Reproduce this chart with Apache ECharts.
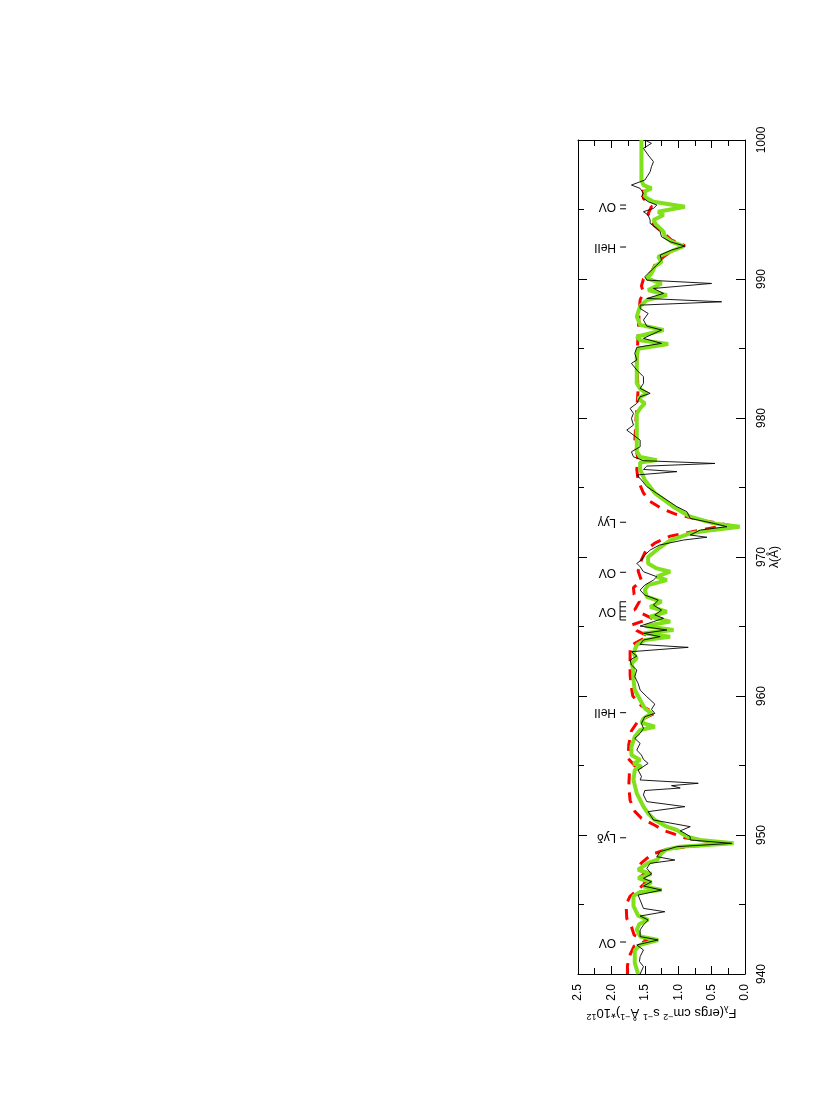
<!DOCTYPE html>
<html>
<head>
<meta charset="utf-8">
<script src="https://cdn.jsdelivr.net/npm/echarts@6/dist/echarts.min.js"></script>
<style>
html,body{margin:0;padding:0;background:#fff;}
#chart{width:830px;height:1116px;}
</style>
</head>
<body>
<div id="chart"></div>
<script>
// axis ranges and tick labels
const fluxMin = 0, fluxMax = 2.5, fluxStep = 0.5;
const waveMin = 940, waveMax = 1000, waveStep = 10;
const fluxTickLabels = ['0.0', '0.5', '1.0', '1.5', '2.0', '2.5'];
const waveTickLabels = ['940', '950', '960', '970', '980', '990', '1000'];

// observed spectrum [wavelength (Å), flux]
const obsData = [
[940.0,1.57],[940.53,1.52],[940.9,1.58],[941.25,1.57],[941.73,1.52],[942.09,1.62],[942.45,1.30],[942.69,1.57],[943.17,1.57],[943.53,1.52],
[943.89,1.45],[944.17,1.57],[944.48,1.20],[944.72,1.52],[945.32,1.57],[945.68,1.60],[946.04,1.25],[946.33,1.52],[946.64,1.40],[946.88,1.52],
[947.19,1.40],[947.6,1.47],[947.96,1.42],[948.2,1.05],[948.44,1.32],[948.8,1.27],[949.16,1.02],[949.4,0.20],[949.64,0.82],[949.88,0.82],
[950.12,0.90],[950.3,0.97],[950.6,0.82],[951.08,1.37],[951.68,1.45],[952.04,0.90],[952.4,1.47],[952.88,1.52],[953.2,1.50],[953.38,0.97],
[953.55,1.10],[953.72,0.70],[953.96,1.57],[954.2,1.55],[954.68,1.60],[955.15,1.45],[955.44,1.52],[955.75,1.55],[956.11,1.62],[956.59,1.57],
[956.95,1.65],[957.31,1.57],[957.67,1.52],[958.03,1.55],[958.51,1.50],[958.75,1.35],[959.04,1.40],[959.42,1.35],[959.95,1.47],[960.43,1.57],
[960.91,1.60],[961.39,1.65],[961.87,1.62],[962.23,1.70],[962.59,1.72],[962.87,1.62],[963.19,1.70],[963.5,0.85],[963.71,1.57],[964.03,1.52],
[964.27,1.27],[964.51,1.52],[964.75,1.17],[965.03,1.57],[965.35,1.37],[965.59,1.22],[965.83,1.35],[966.18,1.25],[966.54,1.37],[966.9,1.30],
[967.26,1.50],[967.62,1.57],[967.98,1.50],[968.34,1.37],[968.58,1.32],[968.94,1.52],[969.3,1.57],[969.54,1.62],[969.78,1.55],[970.14,1.50],
[970.5,1.42],[970.86,1.28],[971.22,0.92],[971.42,0.57],[971.58,0.82],[971.94,0.67],[972.18,0.27],[972.42,0.47],[972.78,0.82],[973.26,0.87],
[973.62,1.02],[974.1,1.17],[974.58,1.32],[975.06,1.47],[975.54,1.55],[975.9,1.62],[976.14,1.02],[976.3,1.52],[976.54,1.47],[976.73,0.45],
[976.93,1.52],[977.21,1.67],[977.57,1.70],[977.93,1.57],[978.41,1.57],[978.77,1.67],[979.13,1.77],[979.49,1.67],[979.97,1.70],[980.33,1.67],
[980.69,1.72],[981.05,1.62],[981.53,1.57],[981.77,1.42],[982.13,1.57],[982.49,1.52],[982.97,1.52],[983.45,1.62],[983.93,1.70],[984.17,1.62],
[984.65,1.65],[985.08,1.62],[985.37,1.25],[985.73,1.52],[986.33,1.25],[986.61,1.47],[987.05,1.52],[987.52,1.45],[987.88,1.57],[988.12,1.57],
[988.36,0.35],[988.6,1.47],[988.96,1.22],[989.32,1.37],[989.68,0.50],[989.92,1.47],[990.16,1.50],[990.64,1.40],[991.0,1.32],[991.36,1.25],
[991.72,1.27],[992.08,1.10],[992.37,0.90],[992.68,1.12],[993.04,1.25],[993.4,1.27],[993.65,1.32],[994.0,1.42],[994.24,1.42],[994.6,1.45],
[994.84,1.52],[995.08,1.37],[995.32,1.32],[995.56,1.45],[995.92,1.55],[996.16,1.52],[996.52,1.57],[996.76,1.70],[997.12,1.50],[997.48,1.45],
[997.72,1.42],[998.08,1.40],[998.44,1.37],[998.92,1.45],[999.4,1.52],[999.76,1.40],[1000.0,1.50]
];

// model 1 (green) [wavelength, flux]
const greenModel = [
[940.0,1.60],[940.8,1.65],[941.7,1.65],[942.1,1.57],[942.45,1.30],[942.7,1.57],[943.2,1.62],[943.6,1.58],[943.9,1.45],[944.2,1.60],
[944.9,1.67],[945.6,1.67],[945.9,1.57],[946.05,1.25],[946.3,1.52],[946.6,1.40],[946.9,1.60],[947.2,1.40],[947.5,1.60],[948.0,1.45],
[948.2,1.32],[948.7,1.25],[948.95,1.18],[949.16,0.97],[949.4,0.17],[949.64,0.67],[949.88,0.87],[950.12,0.95],[950.36,1.02],[950.6,1.17],
[951.08,1.35],[951.56,1.45],[952.04,1.52],[953.0,1.62],[953.96,1.67],[954.68,1.65],[954.92,1.55],[955.15,1.67],[955.39,1.57],[955.75,1.70],
[956.35,1.70],[957.07,1.65],[957.55,1.57],[957.79,1.35],[958.08,1.55],[958.39,1.52],[958.75,1.40],[959.11,1.50],[959.71,1.57],[960.43,1.65],
[961.15,1.67],[961.87,1.67],[962.35,1.70],[962.71,1.62],[963.07,1.67],[963.67,1.62],[964.03,1.50],[964.27,1.12],[964.51,1.52],[964.75,1.07],
[965.03,1.50],[965.35,1.12],[965.71,1.42],[966.06,1.17],[966.42,1.42],[966.78,1.25],[967.14,1.47],[967.62,1.50],[967.98,1.45],[968.34,1.17],
[968.58,1.32],[968.94,1.12],[969.18,1.32],[969.54,1.45],[970.0,1.45],[970.7,1.27],[971.2,1.12],[971.7,0.82],[971.95,0.47],[972.18,0.08],
[972.42,0.47],[972.9,0.82],[973.6,1.07],[974.6,1.35],[975.54,1.50],[976.3,1.57],[976.8,1.57],[976.97,1.32],[977.2,1.57],[977.6,1.62],
[980.3,1.62],[980.7,1.57],[981.05,1.50],[981.4,1.60],[981.77,1.47],[982.1,1.57],[982.5,1.62],[984.4,1.62],[984.98,1.60],[985.32,1.15],
[985.6,1.57],[985.85,1.62],[986.33,1.22],[986.7,1.57],[987.3,1.62],[988.05,1.57],[988.48,1.47],[988.84,1.17],[989.2,1.45],[989.68,1.25],
[990.04,1.47],[990.4,1.40],[990.9,1.35],[991.24,1.25],[991.6,1.30],[991.96,1.12],[992.37,0.92],[992.68,1.10],[993.04,1.20],[993.4,1.22],
[993.9,1.33],[994.24,1.37],[994.6,1.22],[994.84,1.30],[995.2,0.90],[995.56,1.37],[995.9,1.50],[996.3,1.50],[996.52,1.40],[996.76,1.52],
[997.1,1.55],[1000.0,1.55]
];

// model 2 (red dashed) [wavelength, flux]
const redModel = [
[940.0,1.76],[940.6,1.76],[941.4,1.72],[942.0,1.66],[942.45,1.45],[942.8,1.66],[943.4,1.70],[944.0,1.77],[945.0,1.78],[945.6,1.72],
[946.0,1.62],[946.3,1.55],[946.6,1.48],[946.9,1.60],[947.2,1.50],[947.6,1.60],[948.0,1.55],[948.6,1.40],[949.0,1.15],[949.4,0.35],
[949.8,0.90],[950.3,1.20],[950.7,1.35],[951.2,1.55],[951.7,1.65],[952.5,1.72],[953.5,1.74],[954.5,1.73],[955.0,1.65],[955.5,1.75],
[956.5,1.74],[957.5,1.70],[958.2,1.60],[958.75,1.35],[959.3,1.55],[960.0,1.68],[960.6,1.70],[961.5,1.72],[962.5,1.72],[963.6,1.72],
[964.3,1.45],[964.7,1.62],[965.1,1.70],[965.6,1.40],[966.2,1.65],[966.8,1.58],[967.3,1.66],[967.8,1.67],[968.3,1.55],[969.0,1.60],
[969.8,1.55],[970.5,1.48],[971.0,1.35],[971.5,1.12],[972.0,0.60],[972.3,0.25],[972.6,0.60],[973.1,1.05],[973.5,1.25],[974.0,1.42],
[974.6,1.52],[975.5,1.60],[976.3,1.62],[977.0,1.60],[978.3,1.65],[980.0,1.63],[982.0,1.60],[984.0,1.62],[986.0,1.60],[988.0,1.58],
[988.5,1.57],[989.0,1.52],[989.5,1.55],[990.0,1.52],[990.5,1.40],[991.0,1.35],[991.6,1.22],[992.0,1.10],[992.4,0.90],[992.8,1.10],
[993.3,1.22],[993.8,1.35],[994.3,1.42],[994.7,1.45],[995.2,1.40],[995.8,1.52],[996.5,1.52],[997.0,1.55],[1000.0,1.55]
];

// line identifications
const idLabels = ['OV', 'Lyδ', 'HeII', 'OV', 'OV', 'Lyγ', 'HeII', 'OV'];
const idWaves  = [942.3, 949.8, 958.8, 966.1, 968.9, 972.5, 992.3, 995.2];
const idTicks  = [[942.3],[949.8],[958.8],[965.47,965.7,966.11,966.42,966.78],[968.9],[972.5],[992.3],[995.05,995.32]];
const idTextFlux = 1.93, idTickFrom = 1.87, idTickTo = 1.78;

const font = 'Liberation Sans';
const chart = echarts.init(document.getElementById('chart'), null, {renderer:'canvas'});

const frameAxis = (extra) => Object.assign({
  type: 'value',
  axisLine: {show: true, onZero: false, lineStyle: {color: '#000', width: 1}},
  axisTick: {show: true, inside: true, length: 8, lineStyle: {color: '#000', width: 1}},
  minorTick: {show: true, splitNumber: 2, length: 6, lineStyle: {color: '#000', width: 1}},
  splitLine: {show: false},
  minorSplitLine: {show: false},
  axisLabel: {show: false}
}, extra);

// tick-label items: [flux, wavelength, kind, index]
const tickLabelItems = fluxTickLabels.map((t, i) => [parseFloat(t), waveMin, 0, i])
  .concat(waveTickLabels.map((t, i) => [fluxMin, parseFloat(t), 1, i]));

const option = {
  animation: false,
  backgroundColor: '#fff',
  grid: {left: 578, right: 85, top: 140, bottom: 142, containLabel: false},
  xAxis: [
    frameAxis({
      position: 'bottom', min: fluxMin, max: fluxMax, interval: fluxStep, inverse: true,
      name: '{a|F}{sub|λ}{a|(ergs cm}{sup|−2}{a| s}{sup|−1}{a| Å}{sup|−1}{a|)*10}{sup|12}',
      nameLocation: 'middle', nameRotate: 180, nameGap: 30,
      nameTextStyle: {color: '#000', fontFamily: font, fontSize: 13,
        rich: {
          a: {fontSize: 13, fontFamily: font, color: '#000', lineHeight: 17, verticalAlign: 'middle'},
          sub: {fontSize: 9, fontFamily: font, color: '#000', lineHeight: 17, verticalAlign: 'bottom'},
          sup: {fontSize: 9, fontFamily: font, color: '#000', lineHeight: 17, verticalAlign: 'top'}
        }}
    }),
    frameAxis({
      position: 'top', min: fluxMin, max: fluxMax, interval: fluxStep, inverse: true
    })
  ],
  yAxis: [
    frameAxis({
      position: 'right', min: waveMin, max: waveMax, interval: waveStep,
      axisTick: {show: true, inside: true, length: 9, lineStyle: {color: '#000', width: 1}},
      name: 'λ(Å)', nameLocation: 'middle', nameRotate: 90, nameGap: 24,
      nameTextStyle: {color: '#000', fontSize: 12, fontFamily: font}
    }),
    frameAxis({
      position: 'left', min: waveMin, max: waveMax, interval: waveStep,
      axisTick: {show: true, inside: true, length: 9, lineStyle: {color: '#000', width: 1}}
    })
  ],
  series: [
    {
      type: 'line', name: 'model 2', xAxisIndex: 0, yAxisIndex: 0, z: 1,
      data: redModel.map(d => [d[1], d[0]]),
      showSymbol: false, symbol: 'none', silent: true,
      lineStyle: {color: '#ff0000', width: 3, type: [11, 8]}
    },
    {
      type: 'line', name: 'model 1', xAxisIndex: 0, yAxisIndex: 0, z: 2,
      data: greenModel.map(d => [d[1], d[0]]),
      showSymbol: false, symbol: 'none', silent: true,
      lineStyle: {color: '#80e01a', width: 4}
    },
    {
      type: 'line', name: 'observed', xAxisIndex: 0, yAxisIndex: 0, z: 3,
      data: obsData.map(d => [d[1], d[0]]),
      showSymbol: false, symbol: 'none', silent: true,
      lineStyle: {color: '#000', width: 0.9}
    },
    {
      // line identifications
      type: 'custom', xAxisIndex: 0, yAxisIndex: 0, z: 4, silent: true, clip: false,
      data: idWaves.map((w, i) => [idTextFlux, w, i]),
      renderItem: function (params, api) {
        const i = api.value(2);
        const w = api.value(1);
        const ticks = idTicks[i];
        const children = [];
        const pt = api.coord([idTextFlux, w]);
        children.push({
          type: 'text', x: pt[0], y: pt[1], rotation: Math.PI,
          style: {text: idLabels[i], x: 0, y: 0, align: 'left', verticalAlign: 'middle',
            font: '12px "Liberation Sans"', fill: '#000'}
        });
        ticks.forEach(t => {
          const a = api.coord([idTickFrom, t]);
          const b = api.coord([idTickTo, t]);
          children.push({type: 'line', shape: {x1: a[0], y1: a[1], x2: b[0], y2: b[1]},
            style: {stroke: '#000', lineWidth: 1}});
        });
        if (ticks.length > 2) {
          const a = api.coord([idTickFrom, Math.min.apply(null, ticks)]);
          const b = api.coord([idTickFrom, Math.max.apply(null, ticks)]);
          children.push({type: 'line', shape: {x1: a[0], y1: a[1], x2: b[0], y2: b[1]},
            style: {stroke: '#000', lineWidth: 1}});
        }
        return {type: 'group', children: children};
      }
    },
    {
      // axis tick labels, rotated to read bottom-to-top
      type: 'custom', xAxisIndex: 0, yAxisIndex: 0, z: 5, silent: true, clip: false,
      data: tickLabelItems,
      renderItem: function (params, api) {
        const kind = api.value(2);
        const idx = api.value(3);
        const p = api.coord([api.value(0), api.value(1)]);
        if (kind === 0) {
          return {type: 'text', x: p[0], y: p[1] + 10, rotation: Math.PI / 2,
            style: {text: fluxTickLabels[idx], x: 0, y: 0, align: 'right', verticalAlign: 'middle',
              font: '12px "Liberation Sans"', fill: '#000'}};
        }
        return {type: 'text', x: p[0] + 11, y: p[1], rotation: Math.PI / 2,
          style: {text: waveTickLabels[idx], x: 0, y: 0, align: 'center', verticalAlign: 'top',
            font: '12px "Liberation Sans"', fill: '#000'}};
      }
    }
  ]
};
chart.setOption(option);
</script>
</body>
</html>
